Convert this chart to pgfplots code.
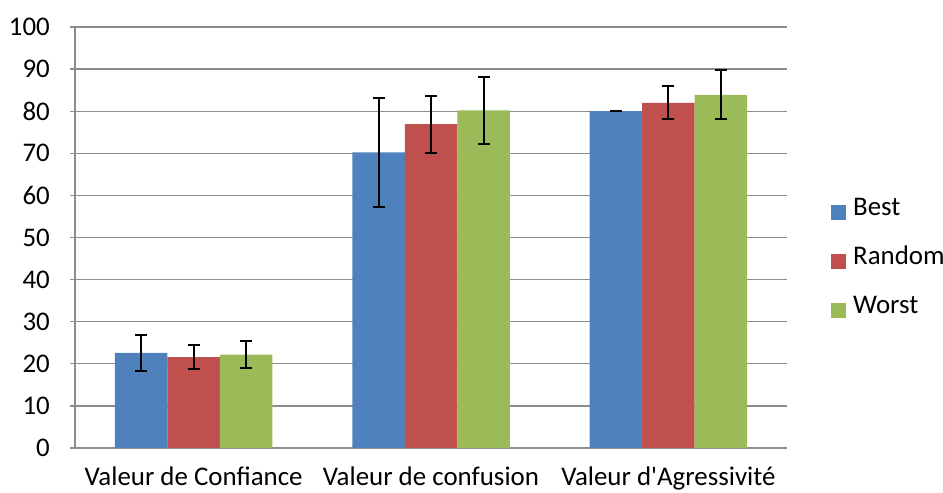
\documentclass[border=0pt]{standalone}
\usepackage{pgfplots}
\pgfplotsset{compat=1.18}
\usepackage{fontspec}
\setmainfont{Carlito}
\newfontfamily\calibri{Carlito}
\definecolor{cBest}{HTML}{4F81BD}
\definecolor{cRandom}{HTML}{C0504D}
\definecolor{cWorst}{HTML}{9BBB59}
\definecolor{cGrid}{HTML}{8C8C8C}
\begin{document}
\calibri\fontsize{27}{32}\selectfont
\begin{tikzpicture}
\useasboundingbox (-75bp,-45bp) rectangle (868bp,448bp);
\begin{axis}[
  at={(0,0)}, anchor=south west,
  scale only axis, width=712bp, height=421bp,
  ymin=0, ymax=100, ytick={0,10,...,100},
  xmin=-0.5, xmax=2.5, xtick={0,1,2},
  xticklabels={Valeur de Confiance, Valeur de confusion, Valeur d'Agressivité},
  ybar=0pt, bar width=52.5bp,
  axis x line*=bottom, axis y line*=left,
  axis line style={cGrid, line width=1.3bp},
  ymajorgrids, grid style={cGrid, line width=1.3bp},
  tick align=outside,
  major tick style={cGrid, line width=1.3bp},
  x tick style={draw=none},
  major tick length=5bp,
  /pgf/number format/assume math mode=true,
  tick label style={font=\calibri\fontsize{27}{32}\selectfont, text=black},
  yticklabel style={anchor=east, inner sep=0pt, xshift=-20bp},
  xticklabel style={anchor=north, inner sep=0pt, yshift=-14bp},
  legend style={at={(1,0.443)}, anchor=west, xshift=44bp, draw=none, fill=none,
    inner sep=0pt, row sep=34bp,
    font=\calibri\fontsize{27}{32}\selectfont,
    nodes={inner sep=0pt, text height=11bp, text depth=4bp}},
  legend cell align=left,
  legend image code/.code={\fill[#1, draw=none] (0bp,-7.5bp) rectangle (15bp,7.5bp); \path (22bp,0bp);},
  error bars/y dir=both, error bars/y explicit,
  error bars/error bar style={black, line width=2bp},
  error bars/error mark options={rotate=90, black, mark size=6bp, line width=2bp},
]
\addplot[fill=cBest, draw=none] coordinates {(0,22.6) +- (0,4.3) (1,70.2) +- (0,12.9) (2,80.0) +- (0,0.05)};
\addplot[fill=cRandom, draw=none] coordinates {(0,21.6) +- (0,2.9) (1,76.9) +- (0,6.8) (2,82.0) +- (0,3.9)};
\addplot[fill=cWorst, draw=none] coordinates {(0,22.2) +- (0,3.3) (1,80.2) +- (0,8.0) (2,83.9) +- (0,5.8)};
\legend{Best, Random, Worst}
\end{axis}
\end{tikzpicture}
\end{document}
